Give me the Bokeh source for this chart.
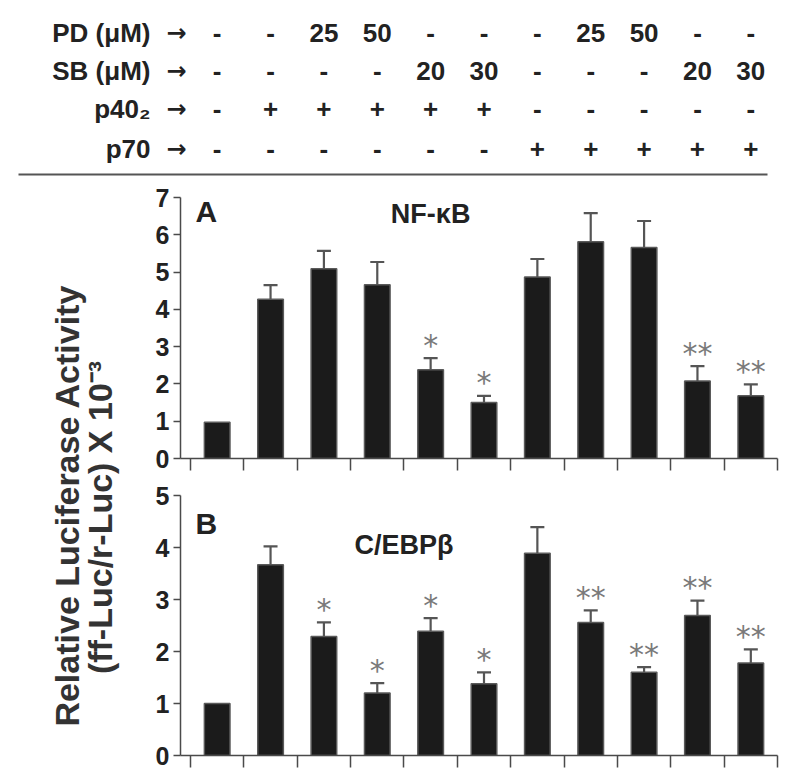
from bokeh.plotting import figure
from bokeh.layouts import column, row
from bokeh.models import Range1d, FixedTicker, Label, CustomJSTickFormatter
from bokeh.embed import file_html
from bokeh.resources import INLINE

# ---------------- data ----------------
conditions = list(range(1, 12))
pd_um = ["-", "-", "25", "50", "-", "-", "-", "25", "50", "-", "-"]
sb_um = ["-", "-", "-", "-", "20", "30", "-", "-", "-", "20", "30"]
p40_2 = ["-", "+", "+", "+", "+", "+", "-", "-", "-", "-", "-"]
p70 = ["-", "-", "-", "-", "-", "-", "+", "+", "+", "+", "+"]
row_names = ["PD (μM)", "SB (μM)", "p40₂", "p70"]

nfkb = [0.97, 4.27, 5.09, 4.66, 2.38, 1.50, 4.87, 5.81, 5.66, 2.08, 1.68]
nfkb_err = [0.0, 0.38, 0.48, 0.61, 0.31, 0.18, 0.48, 0.77, 0.71, 0.40, 0.31]
nfkb_sig = ["", "", "", "", "*", "*", "", "", "", "**", "**"]

cebp = [1.00, 3.67, 2.29, 1.20, 2.39, 1.38, 3.89, 2.56, 1.60, 2.69, 1.78]
cebp_err = [0.0, 0.35, 0.27, 0.19, 0.25, 0.22, 0.50, 0.23, 0.10, 0.29, 0.26]
cebp_sig = ["", "", "*", "*", "*", "*", "", "**", "**", "**", "**"]

nfkb_ticks = [0, 1, 2, 3, 4, 5, 6, 7]
cebp_ticks = [0, 1, 2, 3, 4, 5]
y_title_1 = "Relative Luciferase Activity"
y_title_2 = "(ff-Luc/r-Luc) X 10⁻³"

# ---------------- layout constants ----------------
FONT = "Liberation Sans"
TXT = "#222222"
AX = "#4a4a4a"
PAGE_W = 792
FRAME_L = 180          # px of panel frame left
FRAME_R = 777
SLOT0 = 190            # first category boundary
SLOT = (FRAME_R - SLOT0) / 11.0
X0 = 0.5 - (SLOT0 - FRAME_L) / SLOT
X1 = 11.5


def px_to_x(px):
    return X0 + (px - FRAME_L) / SLOT


def style_plain(p):
    p.outline_line_color = None
    p.background_fill_color = "white"
    p.border_fill_color = "white"
    p.xgrid.visible = False
    p.ygrid.visible = False


# ---------------- header ----------------
HDR_H = 180
hdr = figure(width=PAGE_W, height=HDR_H, x_range=Range1d(px_to_x(0), px_to_x(PAGE_W)),
             y_range=Range1d(HDR_H, 0), x_axis_type=None, y_axis_type=None,
             min_border=0, output_backend="svg", toolbar_location=None)
hdr.outline_line_color = None
hdr.grid.visible = False
row_y = [32, 70, 108, 148]
for vals, yy in zip([pd_um, sb_um, p40_2, p70], row_y):
    hdr.text(x=conditions, y=[yy] * len(conditions), text=vals,
             text_align="center", text_baseline="middle",
             text_font={"value": FONT}, text_font_style="bold",
             text_font_size="26px", text_color=TXT)
for name, yy in zip(row_names, row_y):
    hdr.add_layout(Label(x=px_to_x(150), y=yy, text=name, text_align="right",
                         text_baseline="middle", text_font=FONT,
                         text_font_style="bold", text_font_size="26px",
                         text_color=TXT))
    hdr.add_layout(Label(x=px_to_x(176), y=yy, text="→", text_align="center",
                         text_baseline="middle", text_font="DejaVu Sans",
                         text_font_style="bold", text_font_size="24px",
                         text_color=TXT))
hdr.segment(x0=[px_to_x(18)], y0=[174], x1=[px_to_x(767)], y1=[174],
            line_color="#555555", line_width=2)

# ---------------- y title ----------------
TT_W = FRAME_L - 40
TT_H = 595
tt = figure(width=TT_W, height=TT_H, x_range=Range1d(0, TT_W),
            y_range=Range1d(TT_H, 0), x_axis_type=None, y_axis_type=None,
            min_border=0, output_backend="svg", toolbar_location=None)
tt.outline_line_color = None
tt.grid.visible = False
tt.add_layout(Label(x=66, y=325, text=y_title_1, angle=90, angle_units="deg",
                    text_align="center", text_baseline="middle",
                    text_font=FONT, text_font_style="bold",
                    text_font_size="34px", text_color="#333333"))
tt.add_layout(Label(x=99, y=337, text=y_title_2, angle=90, angle_units="deg",
                    text_align="center", text_baseline="middle",
                    text_font=FONT, text_font_style="bold",
                    text_font_size="34px", text_color="#333333"))


# ---------------- panels ----------------
def panel(vals, errs, sig, ymax, ticks, height, tag, tag_y, name, name_x, name_y):
    p = figure(width=PAGE_W - TT_W, height=height, x_range=Range1d(X0, X1),
               y_range=Range1d(0, ymax), min_border_left=40,
               min_border_right=PAGE_W - FRAME_R,
               min_border_top=17, min_border_bottom=20,
               output_backend="svg", toolbar_location=None)
    style_plain(p)
    p.vbar(x=conditions, top=vals, width=0.48, bottom=0,
           fill_color="#1b1b1b", line_color="#5a5a5a", line_width=1.5)
    xs = [c for c, e in zip(conditions, errs) if e > 0]
    lo = [v for v, e in zip(vals, errs) if e > 0]
    hi = [v + e for v, e in zip(vals, errs) if e > 0]
    p.segment(x0=xs, y0=lo, x1=xs, y1=hi, line_color="#555555", line_width=2.2)
    p.scatter(x=xs, y=hi, marker="dash", size=14, line_color="#555555",
              line_width=2.2)
    tops = [v + e for v, e in zip(vals, errs)]
    p.text(x=conditions, y=tops, text=sig, text_align="center",
           text_baseline="alphabetic", y_offset=-13,
           text_font={"value": "DejaVu Sans"},
           text_font_size="30px", text_color="#7a7a7a")

    ya = p.yaxis[0]
    ya.ticker = FixedTicker(ticks=ticks)
    ya.minor_tick_line_color = None
    ya.major_tick_in = 0
    ya.major_tick_out = 7
    ya.axis_line_color = AX
    ya.major_tick_line_color = AX
    ya.axis_line_width = 1.5
    ya.major_tick_line_width = 1.5
    ya.major_label_standoff = 4
    ya.major_label_text_font = FONT
    ya.major_label_text_font_style = "bold"
    ya.major_label_text_font_size = "25px"
    ya.major_label_text_color = TXT

    xa = p.xaxis[0]
    xa.ticker = FixedTicker(ticks=[i + 0.5 for i in range(12)])
    xa.minor_tick_line_color = None
    xa.major_tick_in = 0
    xa.major_tick_out = 12
    xa.axis_line_color = AX
    xa.major_tick_line_color = AX
    xa.axis_line_width = 1.5
    xa.major_tick_line_width = 1.5
    xa.formatter = CustomJSTickFormatter(code="return ''")
    xa.major_label_text_font_size = "1px"
    xa.major_label_standoff = 0

    p.add_layout(Label(x=px_to_x(195), y=tag_y, text=tag, text_align="left",
                       text_baseline="middle", text_font=FONT,
                       text_font_style="bold", text_font_size="30px",
                       text_color=TXT))
    p.add_layout(Label(x=name_x, y=name_y, text=name, text_align="center",
                       text_baseline="middle", text_font=FONT,
                       text_font_style="bold", text_font_size="27px",
                       text_color=TXT))
    return p


pA = panel(nfkb, nfkb_err, nfkb_sig, 7, nfkb_ticks, 298, "A", 6.62,
           "NF-κB", 5.0, 6.55)
pB = panel(cebp, cebp_err, cebp_sig, 5, cebp_ticks, 297, "B", 4.46,
           "C/EBPβ", 4.5, 4.04)

layout = column(hdr, row(tt, column(pA, pB, spacing=0), spacing=0), spacing=0)

with open("out.html", "w") as f:
    f.write(file_html(layout, INLINE))
